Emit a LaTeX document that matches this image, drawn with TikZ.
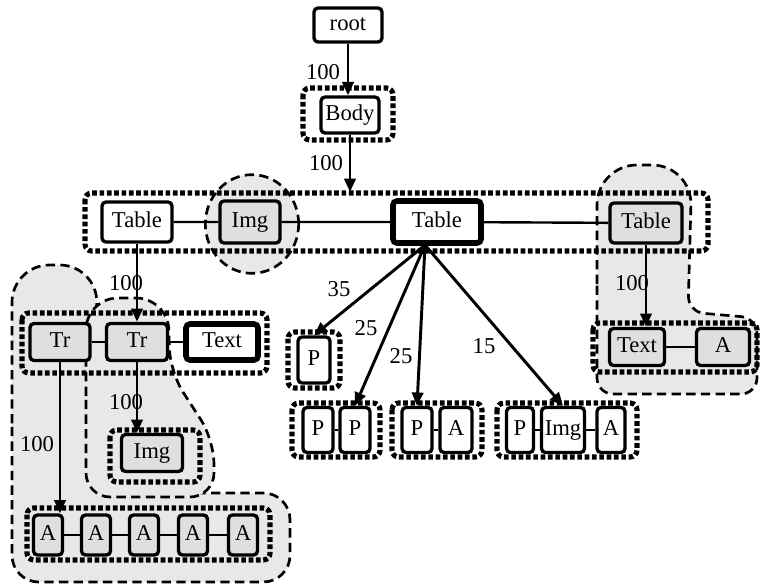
\documentclass[tikz,border=0pt]{standalone}
\usepackage{fontspec}
\setmainfont{Liberation Serif}
\usetikzlibrary{arrows.meta,calc}

\tikzset{
  box/.style={draw, line width=2.5pt, rounded corners=3pt, fill=white, inner sep=1pt,
    text height=11pt, text depth=3pt, font=\fontsize{17}{19}\selectfont},
  grey/.style={box, fill=gray!25},
  heavy/.style={box, line width=4.2pt},
  wd/.style={minimum width=0.75pt*#1},
  ht/.style={minimum height=0.75pt*#1},
  frame/.style={draw, line width=3.8pt, dash pattern=on 3.5pt off 2pt, rounded corners=5pt},
  blob/.style={draw, line width=2pt, dash pattern=on 7pt off 4pt, fill=gray!18},
  link/.style={line width=1.8pt},
  edge/.style={line width=2.2pt, -{Triangle[length=10pt,width=8.5pt]}},
  lbl/.style={inner sep=0pt, font=\fontsize{17}{19}\selectfont},
}

\begin{document}
\begin{tikzpicture}[x=0.75pt, y=-0.75pt]
        \useasboundingbox (0,0) rectangle (760,588);

        % Blöcke (gestrichelt, grau)
        \draw[blob] (597,300) [rounded corners=30pt] -- (597,165) -- (692,165) [rounded corners=12pt] -- (688,312) -- (757,318) -- (757,394) -- (597,394) -- cycle;
        \draw[blob] (12,450) [rounded corners=28pt] -- (12,265) -- (97,265) [rounded corners=20pt] -- (96,493) -- (290,493) -- (290,582) -- (12,582) -- cycle;
        \draw[blob] (86,420) [rounded corners=24pt] -- (86,298) -- (168,298) [rounded corners=18pt] -- (170,372) -- (214,440) -- (214,497) -- (86,497) -- cycle;
        \draw[blob] (252,224) ellipse [x radius=35pt, y radius=37pt];

        % Rahmen (gepunktet)
        \draw[frame] (303,88) rectangle (393,140);
        \draw[frame] (85,193) rectangle (708,251);
        \draw[frame] (22,313) rectangle (267,373);
        \draw[frame] (110,430) rectangle (200,482);
        \draw[frame] (27,508) rectangle (270,560);
        \draw[frame] (593,323) rectangle (757,372);
        \draw[frame] (288,332) rectangle (340,388);
        \draw[frame] (292,403) rectangle (380,457);
        \draw[frame] (392,403) rectangle (482,457);
        \draw[frame] (497,403) rectangle (637,457);

        % Knoten
        \node[box, wd=68, ht=34] (root) at (348,25) {root};
        \node[box, wd=58, ht=36] (body) at (350,115) {Body};

        \node[box, wd=70, ht=40] (tab1) at (137,222) {Table};
        \node[grey, wd=60, ht=42] (img1) at (250,222) {Img};
        \node[heavy, wd=88, ht=42] (tab2) at (437,222) {Table};
        \node[grey, wd=72, ht=40] (tab3) at (646,223) {Table};

        \node[grey, wd=60, ht=37] (tr1) at (60,342) {Tr};
        \node[grey, wd=61, ht=37] (tr2) at (137,342) {Tr};
        \node[heavy, wd=72, ht=36] (txt1) at (222,342) {Text};
        \node[grey, wd=61, ht=37] (img2) at (152,453) {Img};

        \node[grey, wd=29, ht=40] (a1) at (48,535) {A};
        \node[grey, wd=29, ht=40] (a2) at (96,535) {A};
        \node[grey, wd=29, ht=40] (a3) at (144,535) {A};
        \node[grey, wd=29, ht=40] (a4) at (193,535) {A};
        \node[grey, wd=29, ht=40] (a5) at (243,535) {A};

        \node[grey, wd=55, ht=37] (txt2) at (637,347) {Text};
        \node[grey, wd=53, ht=37] (a6) at (723,347) {A};

        \node[box, wd=32, ht=46] (p1) at (314,360) {P};
        \node[box, wd=30, ht=45] (pp1) at (318,430) {P};
        \node[box, wd=30, ht=45] (pp2) at (355,430) {P};
        \node[box, wd=30, ht=45] (pa1) at (417,430) {P};
        \node[box, wd=32, ht=45] (pa2) at (456,430) {A};
        \node[box, wd=27, ht=45] (pia1) at (520,430) {P};
        \node[box, wd=43, ht=45] (pia2) at (563,430) {Img};
        \node[box, wd=28, ht=45] (pia3) at (611,430) {A};

        % Verbindungen
        \draw[link] (tab1) -- (img1) -- (tab2) -- (tab3);
        \draw[link] (tr1) -- (tr2) -- (txt1);
        \draw[link] (a1) -- (a2) -- (a3) -- (a4) -- (a5);
        \draw[link] (txt2) -- (a6);
        \draw[link] (pp1) -- (pp2);
        \draw[link] (pa1) -- (pa2);
        \draw[link] (pia1) -- (pia2) -- (pia3);

        % Pfeile
        \coordinate (bandtop) at (349,192);
        \coordinate (hub) at (425,245);
        \draw[edge] (root.south) -- (root.south |- body.north);
        \draw[edge] (body.south) -- (body.south |- bandtop);
        \draw[edge] (tab1.south) -- (tr2.north);
        \draw[edge] (tr2.south) -- (tr2.south |- img2.north);
        \draw[edge] (tr1.south) -- (tr1.south |- a1.north);
        \draw[edge] (tab3.south) -- (tab3.south |- txt2.north);
        \draw[edge] (hub) -- (p1.north);
        \draw[edge] (hub) -- (pp2.north);
        \draw[edge] (hub) -- (pa1.north);
        \draw[edge] (hub) -- (pia2.north);

        % Gewichte
        \node[lbl] (w1) at (323,72) {100};
        \node[lbl] (w2) at (326,163) {100};
        \node[lbl] (w3) at (126,283) {100};
        \node[lbl] (w4) at (126,402) {100};
        \node[lbl] (w5) at (37,444) {100};
        \node[lbl] (w6) at (632,283) {100};
        \node[lbl] (w7) at (339,289) {35};
        \node[lbl] (w8) at (366,328) {25};
        \node[lbl] (w9) at (401,356) {25};
        \node[lbl] (w10) at (484,346) {15};

    \end{tikzpicture}
\end{document}
